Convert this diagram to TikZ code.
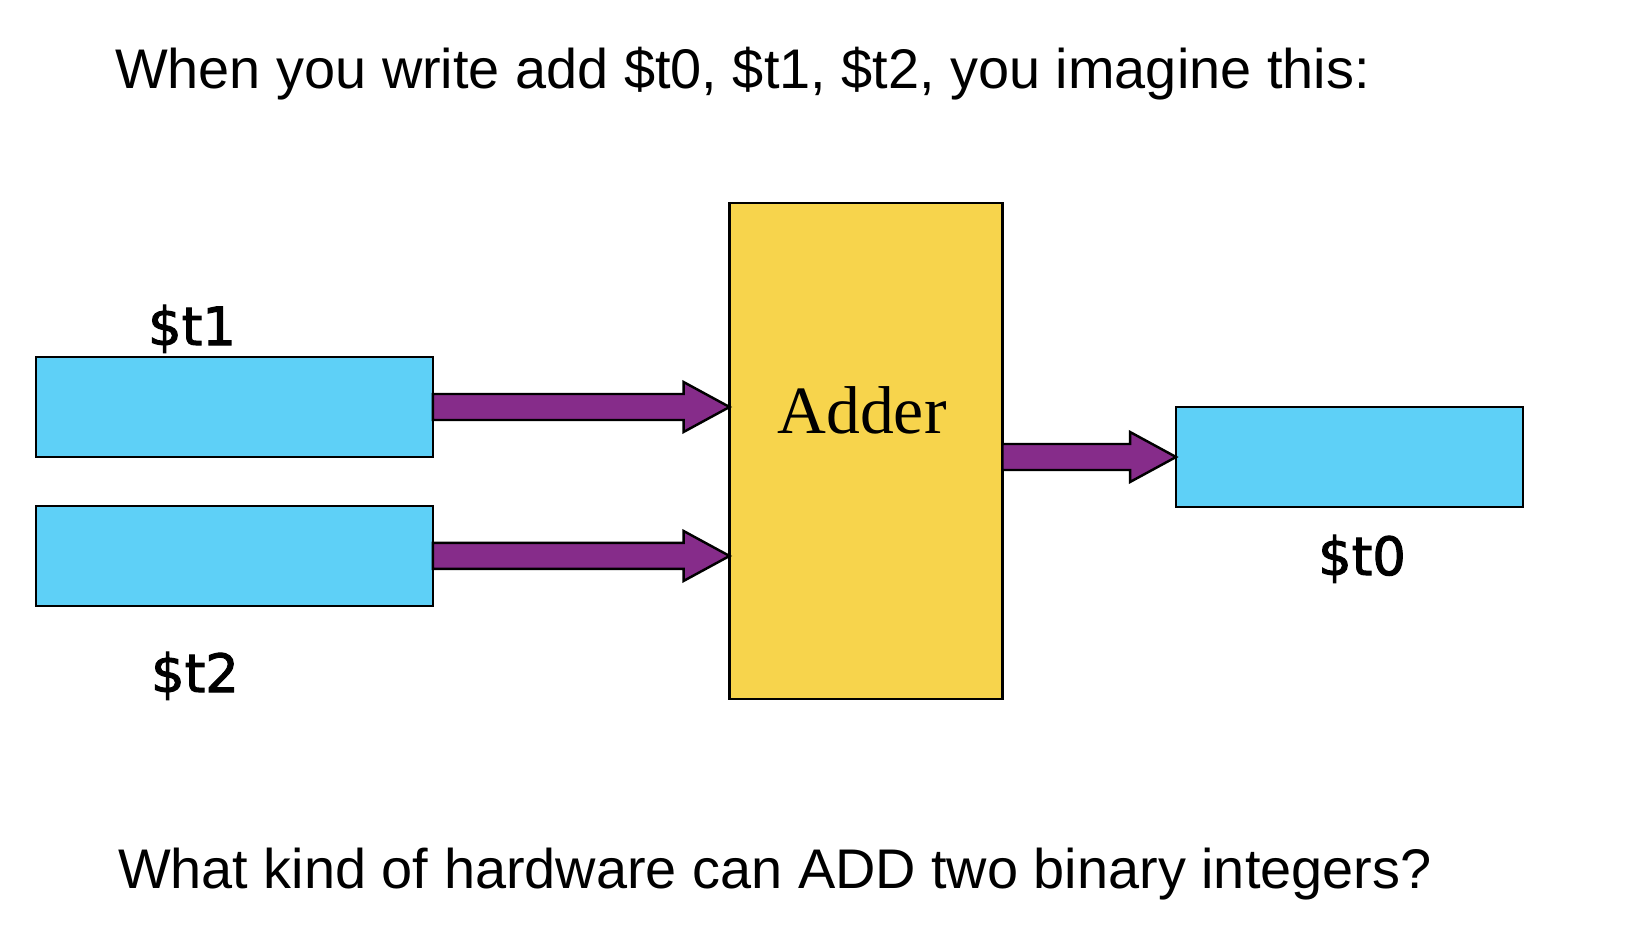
\documentclass[tikz,border=0pt]{standalone}
\usepackage{fontspec}
\setmainfont{Liberation Sans}
\newfontfamily\adderfont{Liberation Serif}
\newfontfamily\regfont[FakeBold=2]{DejaVu Sans}
\usetikzlibrary{positioning}
\usetikzlibrary{calc}
\definecolor{regblue}{RGB}{94,208,247}
\definecolor{addyellow}{RGB}{247,212,76}
\definecolor{busviolet}{RGB}{134,44,138}

% block arrow from #1 to #2 (horizontal)
\newcommand{\fatarrow}[2]{%
  \draw[bus] ($(#1)+(0,-13)$) -- ($(#2)+(-46,-13)$) -- ($(#2)+(-46,-25)$)
    -- (#2) -- ($(#2)+(-46,25)$) -- ($(#2)+(-46,13)$) -- ($(#1)+(0,13)$) -- cycle;}

\begin{document}
\begin{tikzpicture}[x=0.02cm,y=-0.02cm,
  every node/.style={inner sep=0,outer sep=0},
  reg/.style={draw,line width=1.4pt,fill=regblue,minimum width=7.94cm,minimum height=2cm},
  bus/.style={draw,line width=1.4pt,fill=busviolet,line join=miter},
  regname/.style={anchor=base,font=\regfont\fontsize{30}{36}\selectfont},
  bigtext/.style={anchor=base west,font=\fontsize{31.8}{38}\selectfont}]
  \useasboundingbox (0,0) rectangle (1628,932);

  \node[bigtext] (top) at (115,89) {When you write add \$t0, \$t1, \$t2, you imagine this:};

  \node[reg] (r1) at (234.5,407) {};
  \node[reg,below=0.98cm of r1] (r2) {};
  \node[draw,line width=1.4pt,fill=addyellow,minimum width=5.46cm,minimum height=9.92cm] (add) at (866,451) {};
  \node[anchor=base,font=\adderfont\fontsize{38.5}{44}\selectfont] (addname) at (862,433) {Adder};
  \node[reg,minimum width=6.94cm] (r0) at (1349.5,457) {};

  \node[regname] (n1) at (192,345) {\$t1};
  \node[regname] (n2) at (195,692) {\$t2};
  \node[regname] (n0) at (1362,575) {\$t0};

  \fatarrow{r1.east}{add.west |- r1.east}
  \fatarrow{r2.east}{add.west |- r2.east}
  \fatarrow{add.east |- r0.west}{r0.west}

  \node[bigtext] (bottom) at (118,888) {What kind of hardware can ADD two binary integers?};
\end{tikzpicture}
\end{document}
